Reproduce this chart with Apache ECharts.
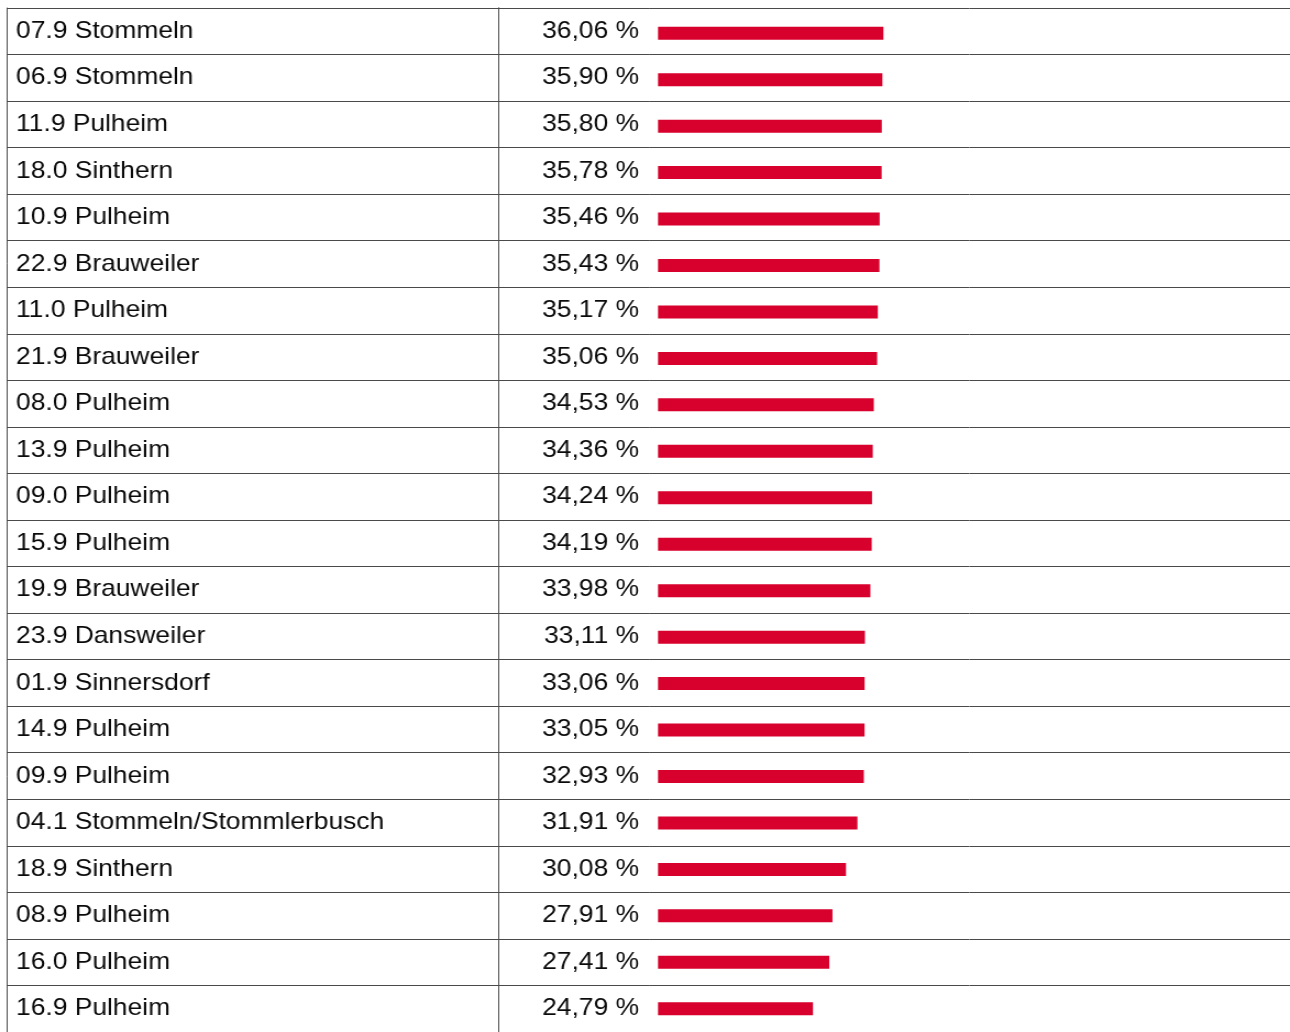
<!DOCTYPE html>
<html>
<head>
<meta charset="utf-8">
<script src="https://cdn.jsdelivr.net/npm/echarts@6/dist/echarts.min.js"></script>
<style>
  html, body { margin: 0; padding: 0; background: #fff; overflow: hidden; }
  /* the table is set slightly wide: draw narrower, then stretch horizontally */
  #chart { width: 1173px; height: 1032px; transform: scaleX(1.09974); transform-origin: 0 0; }
</style>
</head>
<body>
<div id="chart"></div>
<script>
// Stimmbezirke und Anteile (in %)
const districts = [
  '07.9 Stommeln', '06.9 Stommeln', '11.9 Pulheim', '18.0 Sinthern',
  '10.9 Pulheim', '22.9 Brauweiler', '11.0 Pulheim', '21.9 Brauweiler',
  '08.0 Pulheim', '13.9 Pulheim', '09.0 Pulheim', '15.9 Pulheim',
  '19.9 Brauweiler', '23.9 Dansweiler', '01.9 Sinnersdorf', '14.9 Pulheim',
  '09.9 Pulheim', '04.1 Stommeln/Stommlerbusch', '18.9 Sinthern',
  '08.9 Pulheim', '16.0 Pulheim', '16.9 Pulheim'
];
const shares = [
  36.06, 35.90, 35.80, 35.78, 35.46, 35.43, 35.17, 35.06,
  34.53, 34.36, 34.24, 34.19, 33.98, 33.11, 33.06, 33.05,
  32.93, 31.91, 30.08, 27.91, 27.41, 24.79
];

const fmt = v => v.toFixed(2).replace('.', ',') + ' %';

const SX = 1290 / 1173;          // horizontal stretch applied by CSS
const px = v => v / SX;          // page x -> chart x
const ROW = 46.667;
const TOP = 8;
const H = ROW * districts.length;
const LINE = { color: '#4a4a4a', width: 1 };
const FONT = {
  fontFamily: '"Liberation Sans", Arial, sans-serif', fontSize: 24, color: '#0a0a0a',
  padding: [6, 0, 0, 0]
};

const chart = echarts.init(document.getElementById('chart'), null, { renderer: 'canvas' });

function catAxis(grid, extra) {
  return Object.assign({
    type: 'category', gridIndex: grid, inverse: true, data: districts,
    axisTick: { show: false },
    axisLine: { show: false },
    axisLabel: { show: false },
    splitLine: { show: false }
  }, extra);
}

chart.setOption({
  animation: false,
  grid: [
    { left: px(7), top: TOP, width: px(492), height: H },      // Bezirk
    { left: px(499), top: TOP, width: px(150), height: H },    // Anteil
    { left: px(649), top: TOP, right: 0, height: H },          // Balkenspalte (Linien)
    { left: px(658), top: TOP + 2, width: px(625), height: H } // Balken
  ],
  xAxis: [0, 1, 2, 3].map(i => ({
    type: 'value', gridIndex: i, min: 0, max: 100, show: false
  })),
  yAxis: [
    catAxis(0, {
      position: 'left',
      axisLine: { show: true, lineStyle: LINE },
      splitLine: { show: true, interval: 0, lineStyle: LINE },
      axisLabel: Object.assign({ show: true, inside: true, margin: px(9), align: 'left', interval: 0 }, FONT)
    }),
    catAxis(0, {
      position: 'right',
      axisLine: { show: true, lineStyle: LINE }
    }),
    catAxis(1, {
      position: 'right',
      axisLine: { show: true, lineStyle: LINE },
      splitLine: { show: true, interval: 0, lineStyle: LINE },
      axisLabel: Object.assign({
        show: true, inside: true, margin: px(10), align: 'right', interval: 0,
        formatter: (val, idx) => fmt(shares[idx])
      }, FONT)
    }),
    catAxis(2, {
      splitLine: { show: true, interval: 0, lineStyle: LINE }
    }),
    catAxis(3, {})
  ],
  series: [{
    type: 'bar',
    xAxisIndex: 3,
    yAxisIndex: 4,
    data: shares,
    barWidth: 13,
    itemStyle: { color: '#d8002c' },
    silent: true
  }]
});
</script>
</body>
</html>
